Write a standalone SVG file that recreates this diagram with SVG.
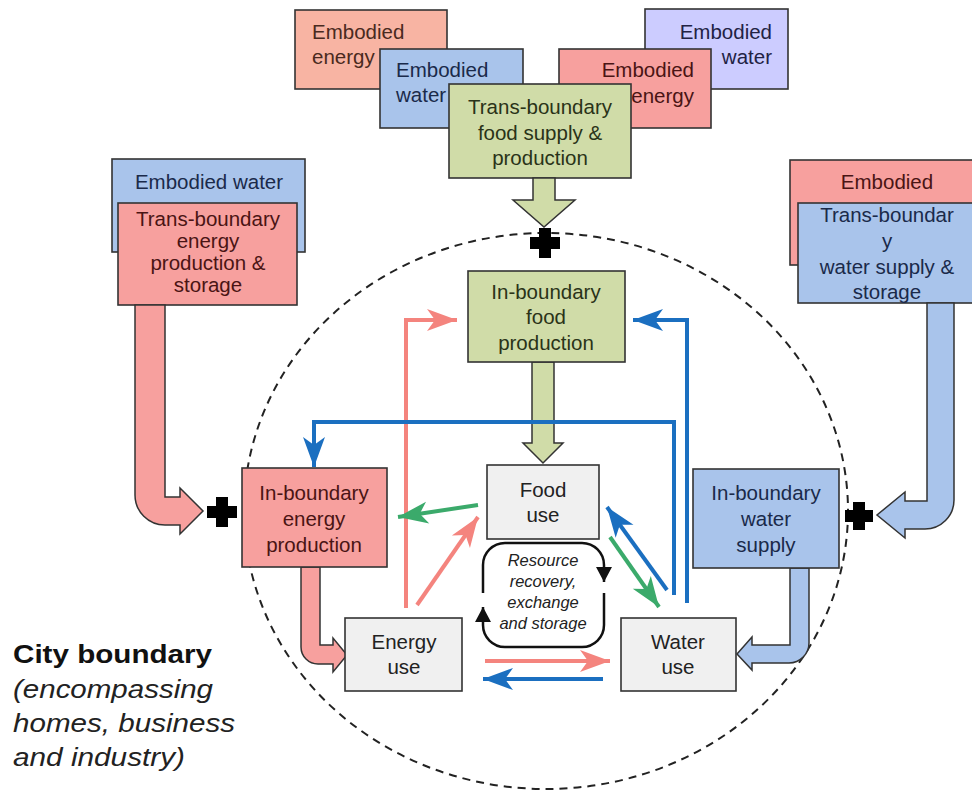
<svg xmlns="http://www.w3.org/2000/svg" width="972" height="791" viewBox="0 0 972 791">
<style>
  text { font-family: "Liberation Sans", Arial, sans-serif; }
  .t { font-size: 20.5px; text-anchor: middle; }
  .box { stroke: #333; stroke-width: 1.6; }
  .salmon { fill: #F8B4A3; }
  .blue { fill: #A9C4EB; }
  .green { fill: #D0DCA8; }
  .red { fill: #F7A09E; }
  .lav { fill: #CCCCFF; }
  .grey { fill: #F0F0F0; }
  .tsal { fill: #4a2a20; }
  .tblue { fill: #1a2a4a; }
  .tgreen { fill: #2a3318; }
  .tred { fill: #4a1414; }
  .tlav { fill: #222244; }
  .tgrey { fill: #222; }
  .big { stroke: #333; stroke-width: 1.5; stroke-linejoin: miter; }
  .ln { fill: none; stroke-width: 4; }
  .pk { stroke: #F4847E; }
  .bl { stroke: #1B6FC0; }
  .gr { stroke: #3BAA6B; }
  .loop { fill: none; stroke: #111; stroke-width: 2.5; }
  .plus { fill: #000; }
  .it { font-size: 16.5px; font-style: italic; text-anchor: middle; fill: #222; }
</style>
<defs>
  <marker id="mPk" markerUnits="userSpaceOnUse" markerWidth="30" markerHeight="22" refX="30" refY="11" orient="auto" overflow="visible">
    <path d="M0,0 L30,11 L0,22 L8,11 Z" fill="#F4847E"/>
  </marker>
  <marker id="mBl" markerUnits="userSpaceOnUse" markerWidth="30" markerHeight="22" refX="30" refY="11" orient="auto" overflow="visible">
    <path d="M0,0 L30,11 L0,22 L8,11 Z" fill="#1B6FC0"/>
  </marker>
  <marker id="mGr" markerUnits="userSpaceOnUse" markerWidth="30" markerHeight="22" refX="30" refY="11" orient="auto" overflow="visible">
    <path d="M0,0 L30,11 L0,22 L8,11 Z" fill="#3BAA6B"/>
  </marker>
  <marker id="mBk" markerUnits="userSpaceOnUse" markerWidth="15" markerHeight="16" refX="15" refY="8" orient="auto" overflow="visible">
    <path d="M0,0 L15,8 L0,16 Z" fill="#111"/>
  </marker>
</defs>

<rect width="972" height="791" fill="#fff"/>

<!-- city boundary -->
<g id="city-boundary">
  <ellipse cx="546" cy="511" rx="302" ry="278" fill="none" stroke="#222" stroke-width="2" stroke-dasharray="8 6"/>
  <text x="13" y="663" font-size="26" font-weight="bold" fill="#111" textLength="199" lengthAdjust="spacingAndGlyphs">City boundary</text>
  <text x="13" y="698" font-size="26" font-style="italic" fill="#222" textLength="200" lengthAdjust="spacingAndGlyphs">(encompassing</text>
  <text x="13" y="732" font-size="26" font-style="italic" fill="#222" textLength="222" lengthAdjust="spacingAndGlyphs">homes, business</text>
  <text x="13" y="766" font-size="26" font-style="italic" fill="#222" textLength="172" lengthAdjust="spacingAndGlyphs">and industry)</text>
</g>

<!-- top embodied boxes -->
<g id="embodied-water-top-right">
  <rect class="box lav" x="645" y="9" width="143" height="80"/>
  <text class="t tlav" x="772" y="39" text-anchor="end" style="text-anchor:end">Embodied</text>
  <text class="t tlav" x="772" y="64" style="text-anchor:end">water</text>
</g>
<g id="embodied-energy-top-right">
  <rect class="box red" x="559" y="49" width="152" height="79"/>
  <text class="t tred" x="694" y="77" style="text-anchor:end">Embodied</text>
  <text class="t tred" x="694" y="103" style="text-anchor:end">energy</text>
</g>
<g id="embodied-energy-top-left">
  <rect class="box salmon" x="295" y="10" width="152" height="79"/>
  <text class="t tsal" x="312" y="39" style="text-anchor:start">Embodied</text>
  <text class="t tsal" x="312" y="64" style="text-anchor:start">energy</text>
</g>
<g id="embodied-water-top-left">
  <rect class="box blue" x="380" y="49" width="143" height="79"/>
  <text class="t tblue" x="396" y="77" style="text-anchor:start">Embodied</text>
  <text class="t tblue" x="396" y="102" style="text-anchor:start">water</text>
</g>
<g id="trans-food">
  <rect class="box green" x="449" y="84" width="182" height="94"/>
  <text class="t tgreen" x="540" y="114">Trans-boundary</text>
  <text class="t tgreen" x="540" y="140">food supply &amp;</text>
  <text class="t tgreen" x="540" y="165">production</text>
</g>

<!-- left external -->
<g id="embodied-water-left">
  <rect class="box blue" x="112" y="159" width="193" height="93"/>
  <text class="t tblue" x="209" y="189">Embodied water</text>
</g>
<g id="trans-energy">
  <rect class="box red" x="118" y="203" width="179" height="102"/>
  <text class="t tred" x="208" y="226">Trans-boundary</text>
  <text class="t tred" x="208" y="248">energy</text>
  <text class="t tred" x="208" y="270">production &amp;</text>
  <text class="t tred" x="208" y="292">storage</text>
</g>

<!-- right external -->
<g id="embodied-energy-right">
  <rect class="box red" x="790" y="160" width="200" height="105"/>
  <text class="t tred" x="887" y="189">Embodied</text>
</g>
<g id="trans-water">
  <rect class="box blue" x="798" y="203" width="180" height="100"/>
  <text class="t tblue" x="887" y="222">Trans-boundar</text>
  <text class="t tblue" x="887" y="248">y</text>
  <text class="t tblue" x="887" y="274">water supply &amp;</text>
  <text class="t tblue" x="887" y="299">storage</text>
</g>

<!-- connectors -->
<g id="connectors">
  <!-- big flows -->
  <path class="big green" d="M533,178 L555,178 L555,200 L575,200 L544,227 L513,200 L533,200 Z"/>
  <path class="big green" d="M532,362 L554,362 L554,443 L563,443 L543,463 L523,443 L532,443 Z"/>
  <path class="big red" d="M135,305 L165,305 L165,497 L180,497 L180,488 L203,511 L180,534 L180,525 L165,525 A30,30 0 0 1 135,495 Z"/>
  <path class="big red" d="M301,567 L320,567 L320,645 L333,645 L333,638 L347,655 L333,672 L333,664 L318,664 A17,17 0 0 1 301,647 Z"/>
  <path class="big blue" d="M927,303 L954,303 L954,500 A29,29 0 0 1 925,529 L905,529 L905,538 L877,515 L905,492 L905,501 L927,501 Z"/>
  <path class="big blue" d="M790,568 L809,568 L809,643 A20,20 0 0 1 789,663 L752,663 L752,670 L737,654 L752,637 L752,645 L790,645 Z"/>

  <!-- thin flows -->
  <path class="ln pk" d="M406,608 L406,320 L457,320" marker-end="url(#mPk)"/>
  <path class="ln pk" d="M417,605 L478,517" marker-end="url(#mPk)"/>
  <path class="ln pk" d="M485,661 L610,661" marker-end="url(#mPk)"/>
  <path class="ln bl" d="M603,679 L483,679" marker-end="url(#mBl)"/>
  <path class="ln gr" d="M478,505 L398,517" marker-end="url(#mGr)"/>
  <path class="ln bl" d="M667,590 L607,507" marker-end="url(#mBl)"/>
  <path class="ln gr" d="M610,537 L659,607" marker-end="url(#mGr)"/>
  <path class="ln bl" d="M687,603 L687,320 L633,320" marker-end="url(#mBl)"/>
  <path class="ln bl" d="M674,595 L674,422 L314,422 L314,467" marker-end="url(#mBl)"/>

  <!-- resource recovery loop -->
  <path class="loop" d="M483,593 L483,565 A22,22 0 0 1 505,543 L582,543 A22,22 0 0 1 604,565 L604,582" marker-end="url(#mBk)"/>
  <path class="loop" d="M604,593 L604,625 A22,22 0 0 1 582,647 L505,647 A22,22 0 0 1 483,625 L483,607" marker-end="url(#mBk)"/>
</g>

<!-- pluses -->
<g id="plus-top"><path class="plus" d="M539,228 L551,228 L551,237 L560,237 L560,249 L551,249 L551,258 L539,258 L539,249 L530,249 L530,237 L539,237 Z"/></g>
<g id="plus-left"><path class="plus" d="M216,497 L228,497 L228,506 L237,506 L237,518 L228,518 L228,527 L216,527 L216,518 L207,518 L207,506 L216,506 Z"/></g>
<g id="plus-right"><path class="plus" d="M853,502 L865,502 L865,510 L873,510 L873,522 L865,522 L865,530 L853,530 L853,522 L845,522 L845,510 L853,510 Z"/></g>

<!-- internal nodes -->
<g id="food-production">
  <rect class="box green" x="468" y="271" width="157" height="91"/>
  <text class="t tgreen" x="546" y="299">In-boundary</text>
  <text class="t tgreen" x="546" y="324">food</text>
  <text class="t tgreen" x="546" y="350">production</text>
</g>
<g id="energy-production">
  <rect class="box red" x="242" y="468" width="145" height="99"/>
  <text class="t tred" x="314" y="500">In-boundary</text>
  <text class="t tred" x="314" y="526">energy</text>
  <text class="t tred" x="314" y="552">production</text>
</g>
<g id="water-supply">
  <rect class="box blue" x="693" y="469" width="146" height="99"/>
  <text class="t tblue" x="766" y="500">In-boundary</text>
  <text class="t tblue" x="766" y="526">water</text>
  <text class="t tblue" x="766" y="552">supply</text>
</g>
<g id="food-use">
  <rect class="box grey" x="487" y="465" width="112" height="74"/>
  <text class="t tgrey" x="543" y="497">Food</text>
  <text class="t tgrey" x="543" y="522">use</text>
</g>
<g id="energy-use">
  <rect class="box grey" x="345" y="618" width="117" height="73"/>
  <text class="t tgrey" x="404" y="649">Energy</text>
  <text class="t tgrey" x="404" y="674">use</text>
</g>
<g id="water-use">
  <rect class="box grey" x="621" y="618" width="115" height="73"/>
  <text class="t tgrey" x="678" y="649">Water</text>
  <text class="t tgrey" x="678" y="674">use</text>
</g>
<g id="resource-recovery">
  <text class="it" x="543" y="566">Resource</text>
  <text class="it" x="543" y="587">recovery,</text>
  <text class="it" x="543" y="608">exchange</text>
  <text class="it" x="543" y="629">and storage</text>
</g>
</svg>
